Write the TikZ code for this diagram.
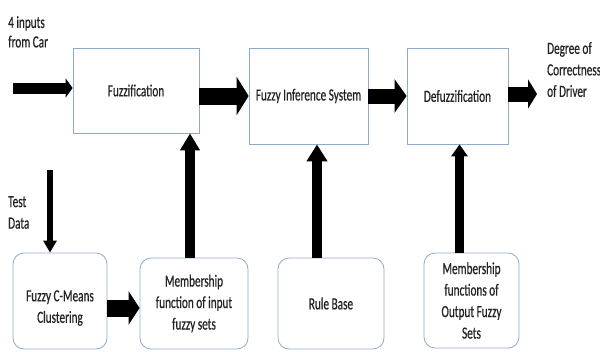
\documentclass[tikz,border=0pt]{standalone}
\usepackage{fontspec}
\setmainfont[FakeStretch=0.66,FakeBold=0.6]{Carlito}
\usetikzlibrary{arrows.meta,calc}
\definecolor{boxline}{RGB}{145,170,200}
\definecolor{txt}{RGB}{35,35,35}
\tikzset{
  sqbox/.style={draw=boxline, line width=0.8pt, inner sep=0pt, align=center,
    text=txt, font=\fontsize{17}{21.5}\selectfont},
  rbox/.style={sqbox, rounded corners=11pt},
  freetext/.style={inner sep=0pt, align=left, anchor=north west, text=txt,
    font=\fontsize{17}{21.5}\selectfont},
  blk/.style={draw=black, line width=#1},
}
\begin{document}
\begin{tikzpicture}[x=1pt,y=-1pt]
\useasboundingbox (0,0) rectangle (600,351);
% top row
\node[sqbox, minimum width=126pt, minimum height=85pt] (fuzz) at (136,90.5) {Fuzzification};
\node[sqbox, minimum width=119pt, minimum height=96pt] (fis) at (308.5,96) {Fuzzy Inference System};
\node[sqbox, minimum width=101pt, minimum height=96pt] (defuzz) at (457.5,96) {Defuzzification};
% bottom row
\node[rbox, minimum width=94pt, minimum height=96pt] (fcm) at (60,301) {};
\node[inner sep=0pt, align=center, text=txt, font=\fontsize{17}{21.5}\selectfont] (fcmtext) at ([yshift=-7pt]fcm.center) {Fuzzy C-Means\\Clustering};
\node[rbox, minimum width=108pt, minimum height=91pt] (mfin) at (194,303.5) {Membership\\function of input\\fuzzy sets};
\node[rbox, minimum width=106pt, minimum height=91pt] (rule) at (331,303.5) {Rule Base};
\node[rbox, minimum width=95pt, minimum height=95pt] (mfout) at (471.5,300.5) {Membership\\functions of\\Output Fuzzy\\Sets};
% free texts
\node[freetext, font=\fontsize{17}{19.5}\selectfont] (intext) at (8,16) {4 inputs\\from Car};
\node[freetext] (tdtext) at (8,196) {Test\\Data};
\node[freetext] (outtext) at (547,42) {Degree of\\Correctness\\of Driver};
% free ends
\coordinate (inA) at (13,88);
\coordinate (outB) at (537,94);
\coordinate (tdA) at (50,170);
% horizontal block arrows
\draw[blk=11pt, -{Triangle[length=7pt,width=19pt]}] (inA) -- (inA -| fuzz.west);
\draw[blk=17pt, -{Triangle[length=12pt,width=38pt]}] (fuzz.east |- fis.west) -- (fis.west);
\draw[blk=15pt, -{Triangle[length=12pt,width=33pt]}] (fis.east) -- (defuzz.west);
\draw[blk=15pt, -{Triangle[length=9pt,width=29pt]}] (defuzz.east |- outB) -- (outB);
\draw[blk=17pt, -{Triangle[length=11pt,width=33pt]}] ([yshift=-7pt]fcm.east) -- ([yshift=-7pt]fcm.east -| mfin.west);
% vertical block arrows
\draw[blk=6.5pt, -{Triangle[length=12pt,width=13pt]}] (tdA) -- (tdA |- fcm.north);
\draw[blk=10pt, -{Triangle[length=17pt,width=19pt]}] ([xshift=-4pt]mfin.north) -- ([xshift=-4pt]mfin.north |- fuzz.south);
\draw[blk=10pt, -{Triangle[length=17pt,width=20pt]}] ([xshift=-14pt]rule.north) -- ([xshift=-14pt]rule.north |- fis.south);
\draw[blk=9pt, -{Triangle[length=12pt,width=16pt]}] ([xshift=-12pt]mfout.north) -- ([xshift=-12pt]mfout.north |- defuzz.south);
\end{tikzpicture}
\end{document}
